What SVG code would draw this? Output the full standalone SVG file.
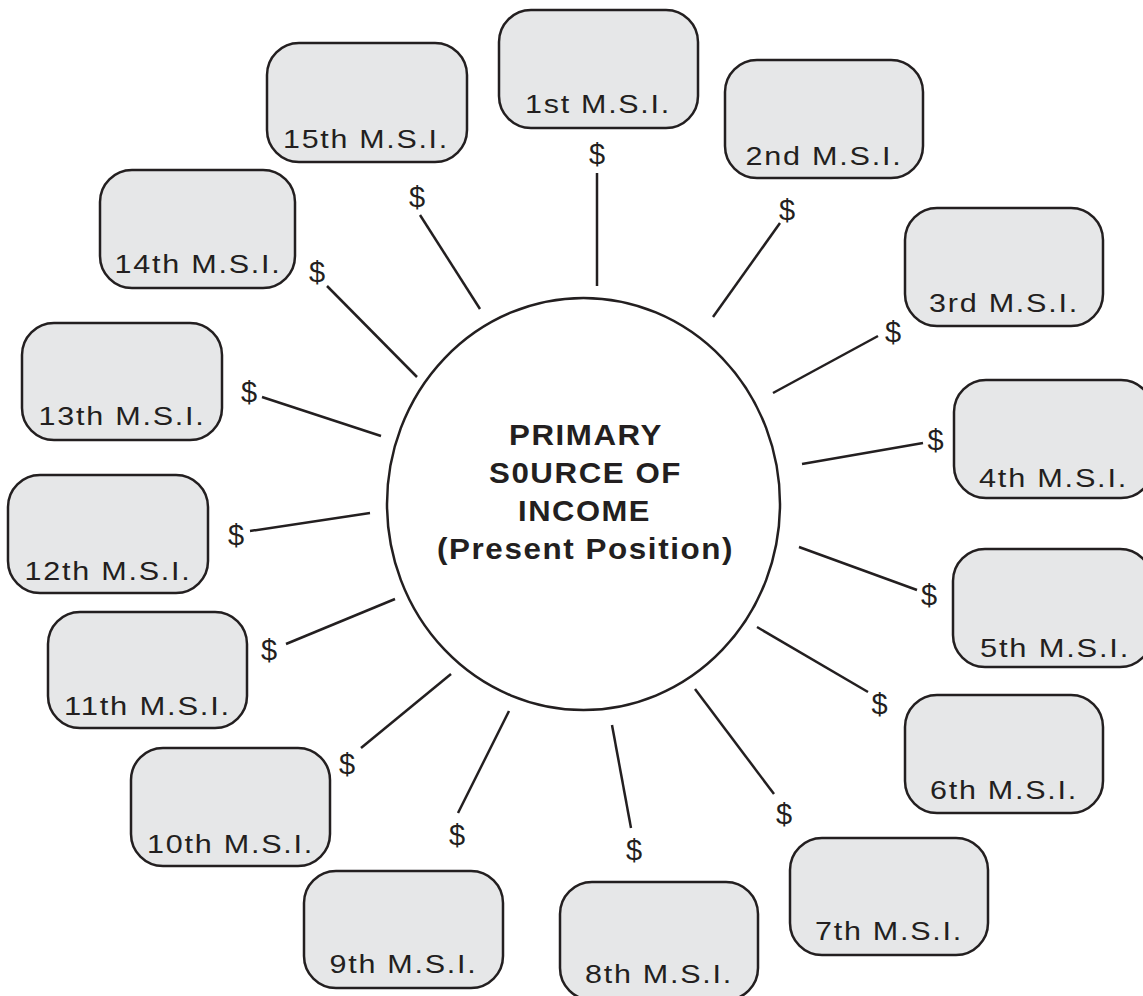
<svg xmlns="http://www.w3.org/2000/svg" width="1143" height="996" viewBox="0 0 1143 996">
<style>
.box rect{fill:#E6E7E8;stroke:#231F20;stroke-width:2.5}
.lbl{font-family:"Liberation Sans",Arial,sans-serif;font-size:26px;letter-spacing:1.5px;fill:#231F20;text-anchor:middle}
.dol{font-family:"Liberation Sans",Arial,sans-serif;font-size:29px;fill:#231F20;text-anchor:middle}
.conn line{stroke:#231F20;stroke-width:2.5}
.ctr{font-family:"Liberation Sans",Arial,sans-serif;font-size:30px;font-weight:bold;letter-spacing:1.5px;fill:#231F20;text-anchor:middle}
</style>
<rect width="1143" height="996" fill="#fff"/>
<g id="center">
<ellipse cx="583.5" cy="504" rx="196.5" ry="206" fill="#fff" stroke="#231F20" stroke-width="2.5"/>
<text class="ctr" x="586" y="445" textLength="154" lengthAdjust="spacingAndGlyphs">PRIMARY</text>
<text class="ctr" x="585.5" y="483" textLength="193" lengthAdjust="spacingAndGlyphs">S0URCE OF</text>
<text class="ctr" x="584.5" y="521" textLength="133" lengthAdjust="spacingAndGlyphs">INCOME</text>
<text class="ctr" x="585.5" y="559" textLength="297" lengthAdjust="spacingAndGlyphs">(Present Position)</text>
</g>
<g id="connectors" class="conn">
<line x1="597" y1="173" x2="597" y2="286"/>
<line x1="713" y1="317" x2="780" y2="223"/>
<line x1="773" y1="393" x2="878" y2="336"/>
<line x1="802" y1="464" x2="923" y2="443"/>
<line x1="799" y1="547" x2="917" y2="590"/>
<line x1="757" y1="627" x2="868" y2="692"/>
<line x1="695" y1="689" x2="774" y2="794"/>
<line x1="612" y1="725" x2="631" y2="828"/>
<line x1="509" y1="711" x2="458" y2="813"/>
<line x1="451" y1="674" x2="361" y2="748"/>
<line x1="395" y1="599" x2="286" y2="644"/>
<line x1="370" y1="513" x2="250" y2="531"/>
<line x1="381" y1="436" x2="262" y2="397"/>
<line x1="417" y1="377" x2="327" y2="286"/>
<line x1="480" y1="309" x2="420" y2="215"/>
<text class="dol" x="597" y="164">$</text>
<text class="dol" x="787" y="220">$</text>
<text class="dol" x="893" y="342">$</text>
<text class="dol" x="935.5" y="450">$</text>
<text class="dol" x="929" y="605">$</text>
<text class="dol" x="879.5" y="714">$</text>
<text class="dol" x="784" y="824">$</text>
<text class="dol" x="634" y="860">$</text>
<text class="dol" x="457" y="845">$</text>
<text class="dol" x="347" y="774">$</text>
<text class="dol" x="269" y="660">$</text>
<text class="dol" x="236" y="545">$</text>
<text class="dol" x="249" y="402">$</text>
<text class="dol" x="317" y="282">$</text>
<text class="dol" x="417" y="207">$</text>
</g>
<g id="msi1" class="box"><rect x="499" y="10" width="199" height="118" rx="32"/><text class="lbl" x="598" y="113" textLength="146" lengthAdjust="spacingAndGlyphs">1st M.S.I.</text></g>
<g id="msi2" class="box"><rect x="725" y="60" width="198" height="118" rx="32"/><text class="lbl" x="824" y="165" textLength="157" lengthAdjust="spacingAndGlyphs">2nd M.S.I.</text></g>
<g id="msi3" class="box"><rect x="905" y="208" width="198" height="118" rx="32"/><text class="lbl" x="1004" y="312" textLength="150" lengthAdjust="spacingAndGlyphs">3rd M.S.I.</text></g>
<g id="msi4" class="box"><rect x="954" y="380" width="199" height="118" rx="32"/><text class="lbl" x="1053.5" y="487" textLength="149" lengthAdjust="spacingAndGlyphs">4th M.S.I.</text></g>
<g id="msi5" class="box"><rect x="953" y="549" width="199" height="118" rx="32"/><text class="lbl" x="1055" y="657" textLength="150" lengthAdjust="spacingAndGlyphs">5th M.S.I.</text></g>
<g id="msi6" class="box"><rect x="905" y="695" width="198" height="118" rx="32"/><text class="lbl" x="1004" y="799" textLength="148" lengthAdjust="spacingAndGlyphs">6th M.S.I.</text></g>
<g id="msi7" class="box"><rect x="790" y="838" width="198" height="117" rx="32"/><text class="lbl" x="889" y="940" textLength="148" lengthAdjust="spacingAndGlyphs">7th M.S.I.</text></g>
<g id="msi8" class="box"><rect x="560" y="882" width="198" height="118" rx="32"/><text class="lbl" x="659" y="983" textLength="148" lengthAdjust="spacingAndGlyphs">8th M.S.I.</text></g>
<g id="msi9" class="box"><rect x="304" y="871" width="199" height="117" rx="32"/><text class="lbl" x="403.5" y="973" textLength="148" lengthAdjust="spacingAndGlyphs">9th M.S.I.</text></g>
<g id="msi10" class="box"><rect x="131" y="748" width="199" height="118" rx="32"/><text class="lbl" x="230.5" y="853" textLength="167" lengthAdjust="spacingAndGlyphs">10th M.S.I.</text></g>
<g id="msi11" class="box"><rect x="48" y="612" width="199" height="116" rx="32"/><text class="lbl" x="147.5" y="715" textLength="167" lengthAdjust="spacingAndGlyphs">11th M.S.I.</text></g>
<g id="msi12" class="box"><rect x="8" y="475" width="200" height="118" rx="32"/><text class="lbl" x="108" y="580" textLength="167" lengthAdjust="spacingAndGlyphs">12th M.S.I.</text></g>
<g id="msi13" class="box"><rect x="22" y="323" width="200" height="117" rx="32"/><text class="lbl" x="122" y="425" textLength="167" lengthAdjust="spacingAndGlyphs">13th M.S.I.</text></g>
<g id="msi14" class="box"><rect x="100" y="170" width="195" height="118" rx="32"/><text class="lbl" x="198" y="273" textLength="167" lengthAdjust="spacingAndGlyphs">14th M.S.I.</text></g>
<g id="msi15" class="box"><rect x="267" y="43" width="200" height="119" rx="32"/><text class="lbl" x="366" y="148" textLength="166" lengthAdjust="spacingAndGlyphs">15th M.S.I.</text></g>
</svg>
